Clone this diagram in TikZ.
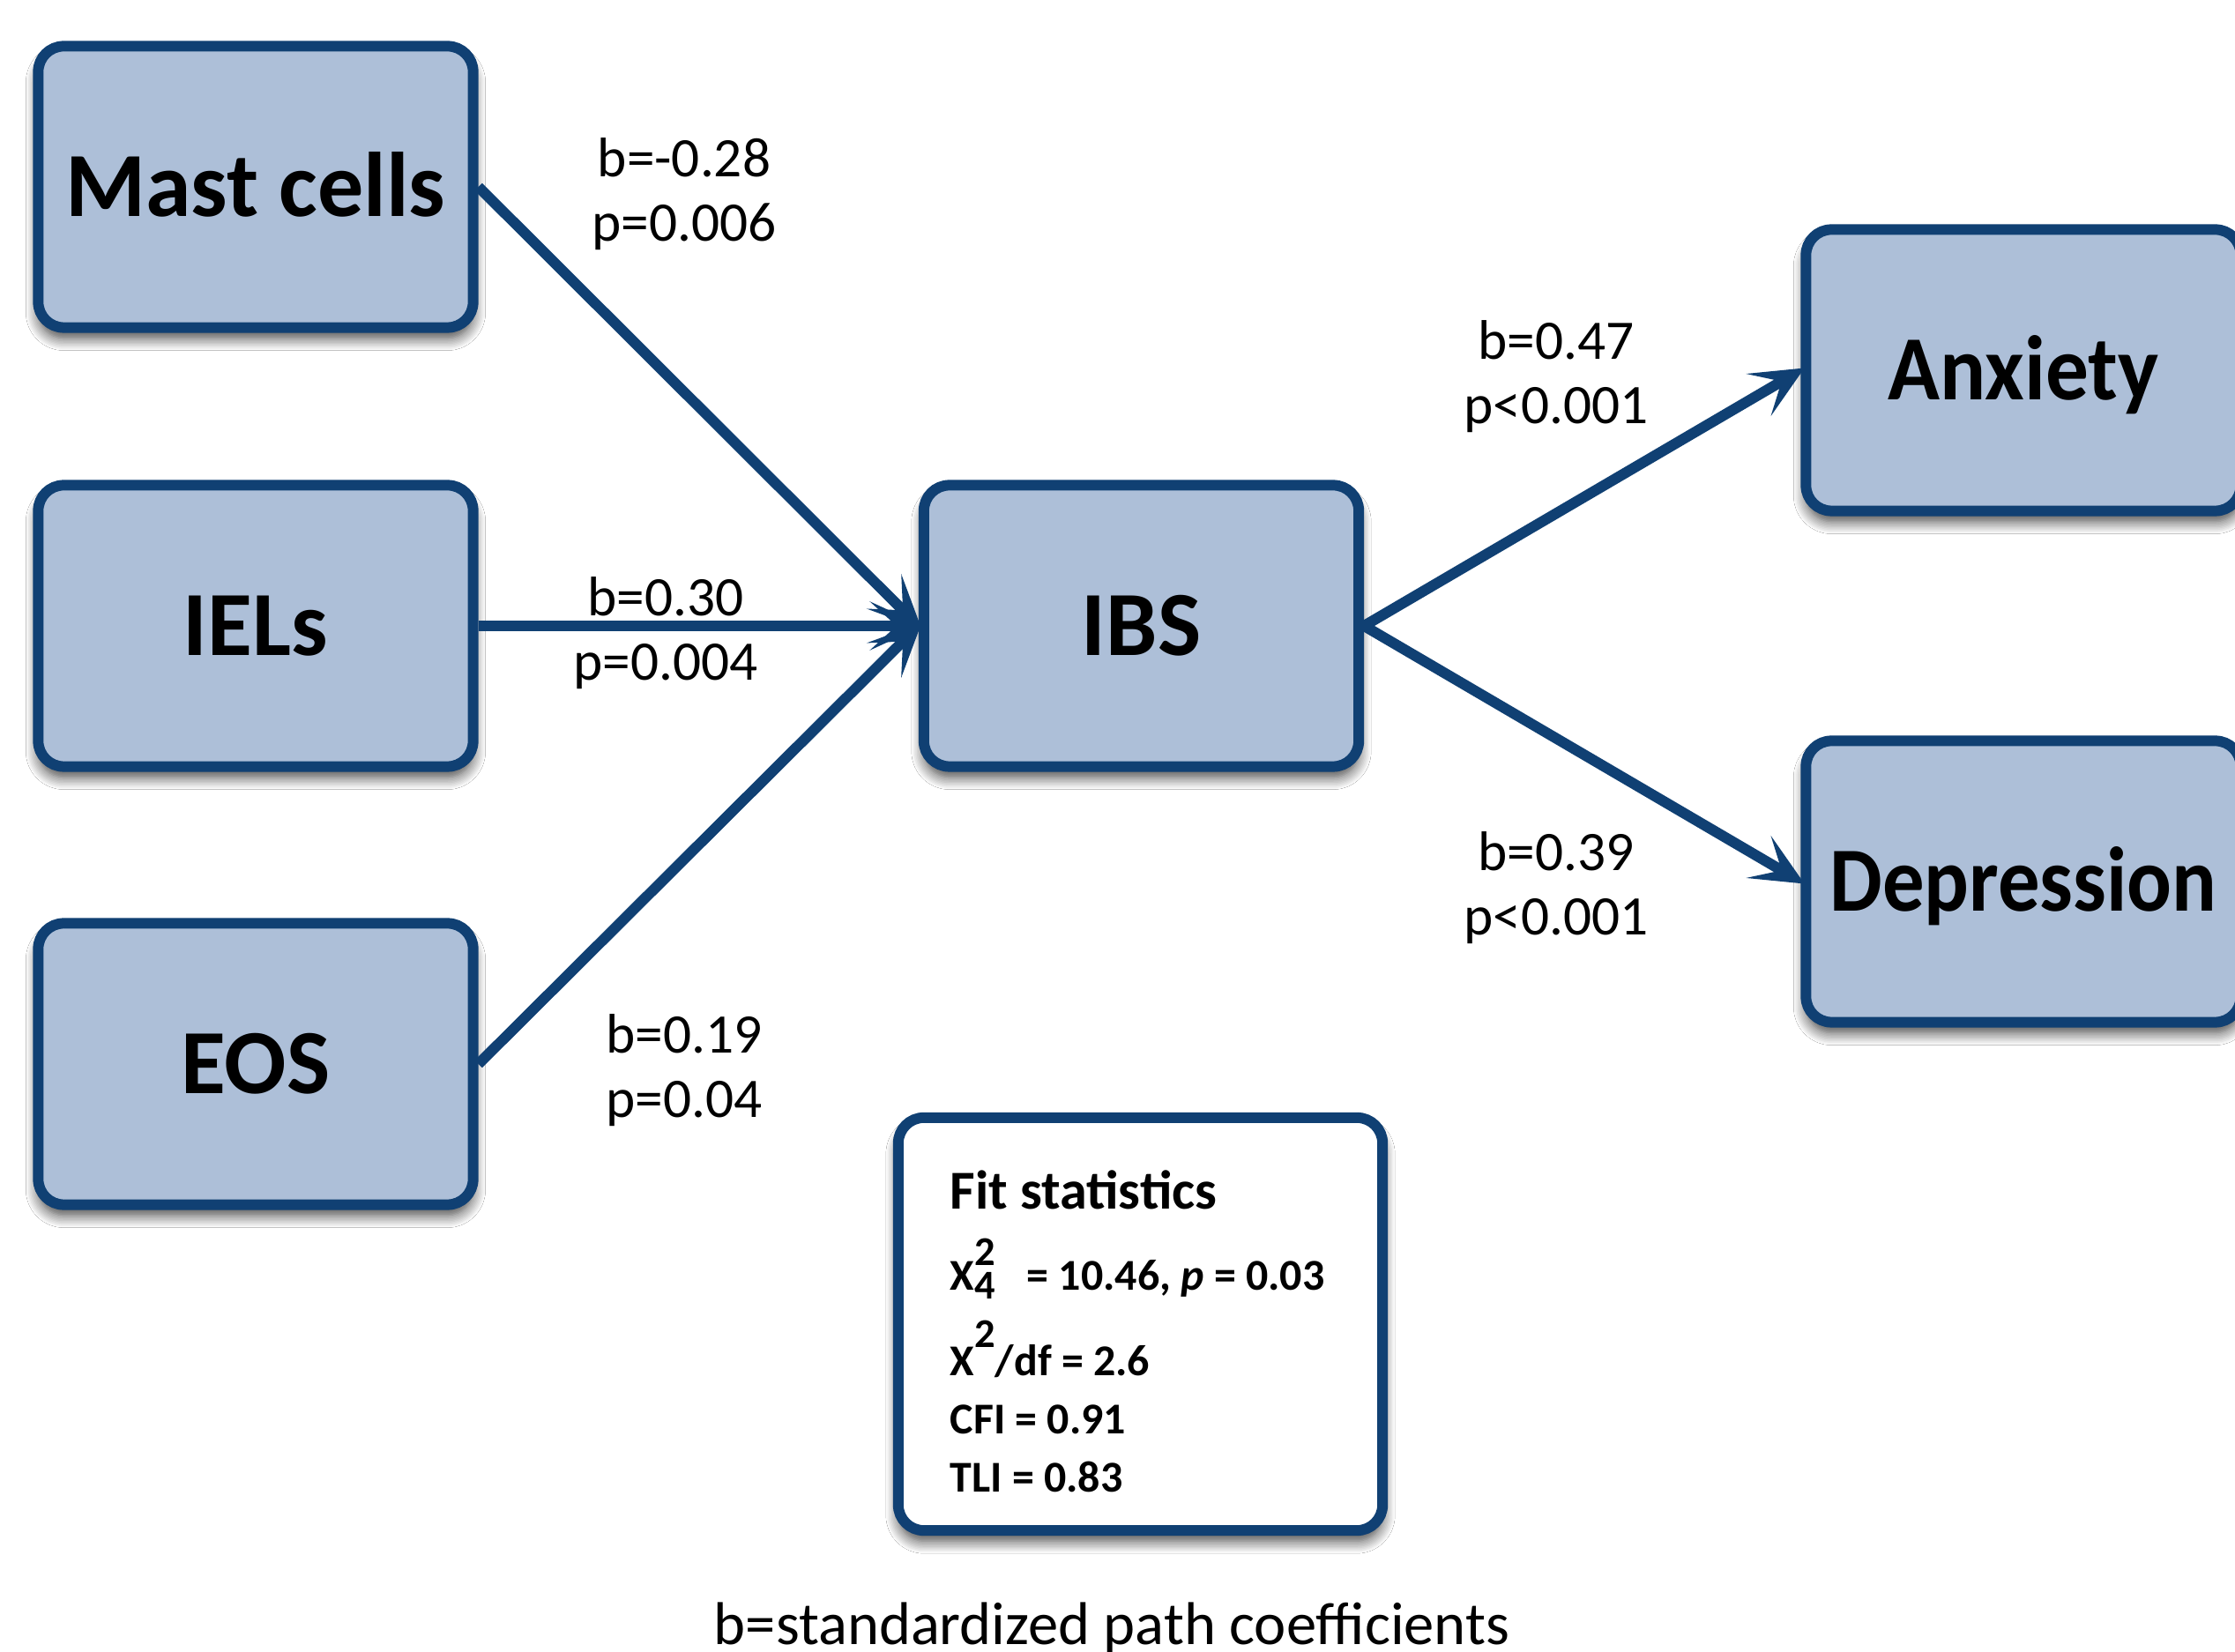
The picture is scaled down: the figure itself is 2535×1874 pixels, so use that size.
\documentclass[tikz,border=0pt]{standalone}
\usepackage{fontspec}
\setmainfont{Carlito}
\usetikzlibrary{arrows.meta,shadows.blur}
\definecolor{bord}{HTML}{104073}
\definecolor{boxfill}{HTML}{ADBFD8}
\newcommand\subsz{\fontsize{13.2pt}{13pt}\selectfont}
\begin{document}
\begin{tikzpicture}[x=0.01cm,y=-0.01cm,
  softshadow/.style={blur shadow={shadow xshift=0pt, shadow yshift=-0.12cm, shadow blur radius=0.14cm, shadow blur steps=10, shadow opacity=75}},
  varbox/.style={draw=bord, fill=boxfill, line width=0.12cm, rounded corners=0.29cm,
    minimum width=4.93cm, minimum height=3.19cm, inner sep=0pt,
    font=\fontsize{29.6pt}{34pt}\selectfont\bfseries, text height=19pt, text depth=0pt, softshadow},
  fitbox/.style={draw=bord, fill=white, line width=0.12cm, rounded corners=0.29cm,
    minimum width=5.49cm, minimum height=4.68cm, inner sep=0pt, softshadow},
  fittxt/.style={align=left, font=\fontsize{14.2pt}{18.8pt}\selectfont\bfseries, inner sep=0pt},
  conn/.style={draw=bord, line width=0.12cm, -{Stealth[length=0.6cm,width=0.55cm,inset=0.3cm]}, shorten >=-0.05cm},
  coef/.style={align=center, font=\fontsize{18pt}{20.6pt}\selectfont, inner sep=0pt}
]
\clip (0,0) rectangle (2535,1874);
\fill[white] (0,0) rectangle (2535,1874);

\node[varbox] (mast) at (290,212) {Mast cells};
\node[varbox] (iels) at (290,710) {IELs};
\node[varbox] (eos) at (290,1207) {EOS};
\node[varbox] (ibs) at (1294.5,710) {IBS};
\node[varbox] (anx) at (2295,420) {\scalebox{0.935}[1]{Anxiety}};
\node[varbox] (dep) at (2295,1000) {\scalebox{0.91}[1]{Depression}};

\node[fitbox] (fit) at (1293.5,1502) {};
\node[fittxt, anchor=north west] (fittext) at (1077,1327) {%
{\fontsize{17.7pt}{18.8pt}\selectfont Fit statistics}\\[7.4pt]
X\rlap{\raisebox{8pt}{\subsz 2}}\raisebox{-2.85pt}{\subsz 4}\hspace{7pt} = 10.46, \textit{p} = 0.03\\[6.0pt]
X\raisebox{9pt}{\subsz 2}/df = 2.6\\
CFI = 0.91\\
TLI = 0.83};

\draw[conn] (mast.east) -- (ibs.west);
\draw[conn] (iels.east) -- (ibs.west);
\draw[conn] (eos.east) -- (ibs.west);
\draw[conn] (ibs.east) -- (anx.west);
\draw[conn] (ibs.east) -- (dep.west);

\node[coef] (c1) at (776,220) {b=-0.28\\p=0.006};
\node[coef] (c2) at (755,718) {b=0.30\\p=0.004};
\node[coef] (c3) at (776,1214) {b=0.19\\p=0.04};
\node[coef] (c4) at (1765,427) {b=0.47\\p<0.001};
\node[coef] (c5) at (1765,1007) {b=0.39\\p<0.001};

\node[font=\fontsize{19.5pt}{20pt}\selectfont, anchor=base, inner sep=0pt] (caption) at (1261,1866) {b=standardized path coefficients};
\end{tikzpicture}
\end{document}
